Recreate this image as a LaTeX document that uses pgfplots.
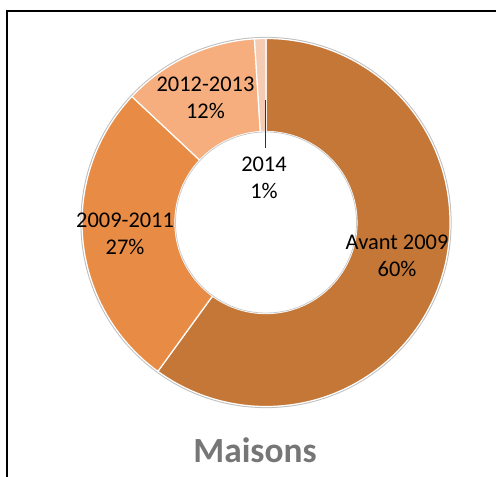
\documentclass[border=0pt]{standalone}
\usepackage{pgfplots}
\pgfplotsset{compat=1.18}
\usepackage{pgfplotstable}
\usepackage{fontspec}
\setmainfont{Carlito}
\definecolor{s0}{HTML}{C47737}
\definecolor{s1}{HTML}{E88C45}
\definecolor{s2}{HTML}{F6AE7E}
\definecolor{s3}{HTML}{F6CBB3}
\definecolor{titlegray}{HTML}{767676}

\pgfplotstableread{
idx value
0 60
1 27
2 12
3 1
}\slices

\begin{document}
\begin{tikzpicture}
\begin{axis}[x=184bp,y=184bp, xmin=-1.4457, xmax=1.25, ymin=-1.3832, ymax=1.2092,
  hide axis, scale only axis, clip=false, anchor=south west, at={(0,0)}]
\def\Rin{0.495}
\def\Rout{1}
\def\cum{90}
% outer soft shadow
\draw[black!25, line width=1.2bp] (axis cs:0,0) circle[radius=185bp];
\pgfplotsforeachungrouped \i in {0,1,2,3}{%
  \pgfplotstablegetelem{\i}{value}\of\slices
  \pgfmathsetmacro\angB{\cum - 3.6*\pgfplotsretval}%
  \edef\temp{\noexpand\fill[s\i, draw=white, line width=1.2bp]
    (axis cs:{\Rout*cos(\cum)},{\Rout*sin(\cum)})
    arc[start angle=\cum, end angle=\angB, radius=184bp]
    -- (axis cs:{\Rin*cos(\angB)},{\Rin*sin(\angB)})
    arc[start angle=\angB, end angle=\cum, radius=91bp] -- cycle;}%
  \temp
  \global\let\cum\angB
}
\draw[black!20, line width=0.8bp] (axis cs:0,0) circle[radius=90.5bp];
% leader line
\draw[black!80, line width=0.8bp] (axis cs:-0.005,0.666) -- (axis cs:-0.005,0.405);
\tikzset{lbl/.style={align=center, font=\fontsize{22.5}{27}\selectfont, text=black, inner sep=0pt}}
\node[lbl] at (axis cs:0.712,-0.182) {Avant 2009\\60\%};
\node[lbl] at (axis cs:-0.766,-0.0625) {2009-2011\\27\%};
\node[lbl] at (axis cs:-0.329,0.677) {2012-2013\\12\%};
\node[lbl] at (axis cs:-0.011,0.242) {2014\\1\%};
\node[anchor=base, inner sep=0pt, text=titlegray, font=\fontsize{35.5}{42}\selectfont\bfseries] at (axis cs:-0.0598,-1.307) {Maisons};
% frame
\draw[black, line width=1.6bp] (axis cs:-1.4076,-1.6) -- (axis cs:-1.4076,1.1495) -- (axis cs:1.5,1.1495);
\end{axis}
\pgfresetboundingbox
\useasboundingbox (0,0) rectangle (496bp,477bp);
\end{tikzpicture}
\end{document}
